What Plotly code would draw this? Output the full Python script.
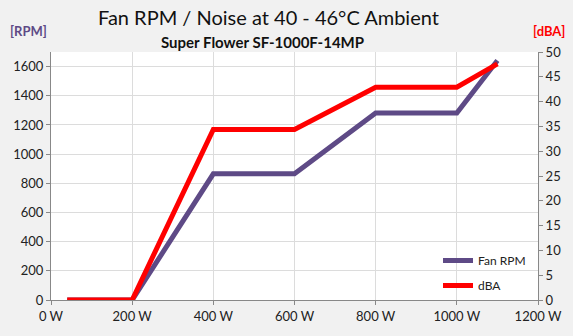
import plotly.graph_objects as go

load_w = [40, 200, 400, 600, 800, 1000, 1100]
fan_rpm = [0, 0, 865, 865, 1282, 1282, 1642]
noise_dba = [0, 0, 34.4, 34.4, 42.9, 42.9, 47.6]

PURPLE = "#5e4a86"
RED = "#ff0000"
FONT = "Lato"

fig = go.Figure()
fig.add_trace(go.Scatter(x=load_w, y=fan_rpm, name="Fan RPM", mode="lines",
                         line=dict(color=PURPLE, width=5), yaxis="y", legendgroup="a"))
fig.add_trace(go.Scatter(x=load_w, y=noise_dba, name="dBA", mode="lines",
                         line=dict(color=RED, width=5), yaxis="y2", legendgroup="b"))

ph = 336 - 52 - 36
pw = 573 - 51 - 35

fig.update_layout(
    width=573, height=336,
    margin=dict(l=51, r=35, t=52, b=36),
    paper_bgcolor="#f1f1f1",
    plot_bgcolor="white",
    font=dict(family=FONT, size=13, color="#222"),
    showlegend=True,
    legend=dict(x=(438 - 51) / pw, y=0.0, xanchor="left", yanchor="bottom",
                bgcolor="rgba(255,255,255,0)", font=dict(size=12, color="#222"),
                itemwidth=30, traceorder="grouped", tracegroupgap=6),
    xaxis=dict(range=[0, 1200], dtick=200, ticksuffix=" W", showgrid=True,
               gridcolor="#dcdcdc", gridwidth=1, ticks="outside", ticklen=4,
               tickcolor="#888", showline=True, linecolor="#888", zeroline=False),
    yaxis=dict(range=[0, 1700], tickvals=[0, 200, 400, 600, 800, 1000, 1200, 1400, 1600],
               showgrid=True, gridcolor="#dcdcdc", ticks="outside", ticklen=4,
               tickcolor="#888", showline=True, linecolor="#888", zeroline=False),
    yaxis2=dict(range=[0, 50], dtick=5, overlaying="y", side="right", showgrid=False,
                ticks="outside", ticklen=4, tickcolor="#888", showline=True,
                linecolor="#888", zeroline=False),
    annotations=[
        dict(text="Fan RPM / Noise at 40 - 46°C Ambient", xref="paper", yref="paper",
             x=(268 - 51) / pw, y=1 + 35 / ph, xanchor="center", yanchor="middle",
             showarrow=False, font=dict(size=20, color="#111", family=FONT)),
        dict(text="<b>Super Flower SF-1000F-14MP</b>", xref="paper", yref="paper",
             x=(262 - 51) / pw, y=1 + 10 / ph, xanchor="center", yanchor="middle",
             showarrow=False, font=dict(size=15, color="#111", family=FONT)),
        dict(text="<b>[RPM]</b>", xref="paper", yref="paper",
             x=(8 - 51) / pw, y=1 + 21 / ph, xanchor="left", yanchor="middle",
             showarrow=False, font=dict(size=13, color=PURPLE, family=FONT)),
        dict(text="<b>[dBA]</b>", xref="paper", yref="paper",
             x=(567 - 51) / pw, y=1 + 21 / ph, xanchor="right", yanchor="middle",
             showarrow=False, font=dict(size=13, color=RED, family=FONT)),
    ],
)

fig.write_html("out.html")
